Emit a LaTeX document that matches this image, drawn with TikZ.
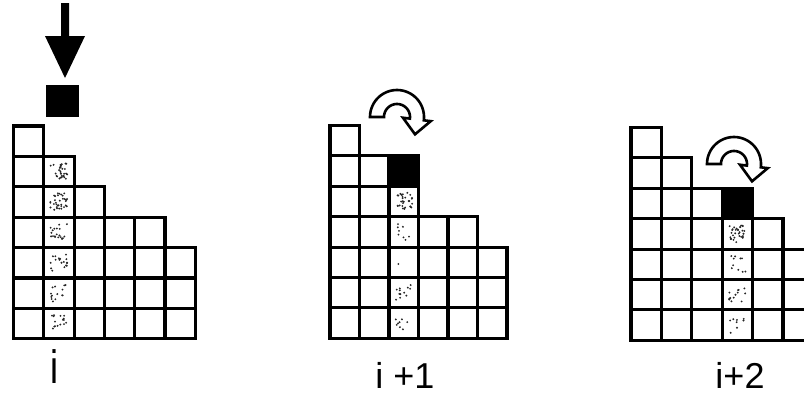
\documentclass[tikz,border=0pt]{standalone}
\usepackage{fontspec}
\setmainfont{Liberation Sans}
\newcommand\specks[3]{%
  \foreach \k in {1,...,#3}{%
    \fill[black!85] ({#1+15+8.5*rand},{#2+15+8.5*rand}) circle[radius=1.05];}}
\newcommand\curvedarrow[2]{%
  \filldraw[fill=white,draw=black,line width=2.6pt,line join=miter]
    plot[domain=180:367,samples=40] ({#1+27*cos(\x)},{#2+27*sin(\x)})
    -- ({#1+34*cos(7)},{#2+34*sin(7)})
    -- ({#1+20*cos(7)-15*sin(7)},{#2+20*sin(7)+15*cos(7)})
    -- ({#1+6*cos(7)},{#2+6*sin(7)})
    -- plot[domain=367:180,samples=40] ({#1+13*cos(\x)},{#2+13*sin(\x)})
    -- cycle;}
\begin{document}
\begin{tikzpicture}[x=1pt,y=-1pt,
  cellline/.style={draw=black,line width=3.1pt},
  lbl/.style={anchor=base,inner sep=0pt,font=\fontsize{36}{40}\selectfont}]
\useasboundingbox (0,0) rectangle (804,400);
\pgfmathsetseed{11}
% ---------- panel 1 ----------
\fill[black] (45.7,85) rectangle (79,116.7);
\fill[black] (61,3) -- (69,3) -- (69,36) -- (85,36) -- (65,78) -- (45,36) -- (61,36) -- cycle;
\foreach \r/\n in {1/30,2/34,3/20,4/18,5/14,6/16}
  \specks{13.5+30.3}{126+30.4*\r}{\n};
\foreach \c/\t in {0/0,1/1,2/2,3/3,4/3,5/4}
  \foreach \r in {\t,...,6}
    \draw[cellline] ({13.5+30.3*\c},{126+30.4*\r}) rectangle ++(30.3,30.4);
\node[lbl] (l1) at (54,383) {\scalebox{1}[1.3]{i}};
% ---------- panel 2 ----------
\curvedarrow{397}{117}
\fill[black] ({330+29.5*2},{125.5+30.4}) rectangle ++(29.5,30.4);
\foreach \r/\n in {2/30,3/8,4/1,5/12,6/8}
  \specks{330+29.5*2}{125.5+30.4*\r}{\n};
\foreach \c/\t in {0/0,1/1,2/1,3/3,4/3,5/4}
  \foreach \r in {\t,...,6}
    \draw[cellline] ({330+29.5*\c},{125.5+30.4*\r}) rectangle ++(29.5,30.4);
\node[lbl] (l2) at (405,388) {i +1};
% ---------- panel 3 ----------
\curvedarrow{734}{164}
\fill[black] ({631+30.4*3},{127.5+30.4*2}) rectangle ++(30.4,30.4);
\foreach \r/\n in {3/32,4/10,5/13,6/8}
  \specks{631+30.4*3}{127.5+30.4*\r}{\n};
\foreach \c/\t in {0/0,1/1,2/2,3/2,4/3,5/4}
  \foreach \r in {\t,...,6}
    \draw[cellline] ({631+30.4*\c},{127.5+30.4*\r}) rectangle ++(30.4,30.4);
\node[lbl] (l3) at (740,388) {i+2};
\end{tikzpicture}
\end{document}
